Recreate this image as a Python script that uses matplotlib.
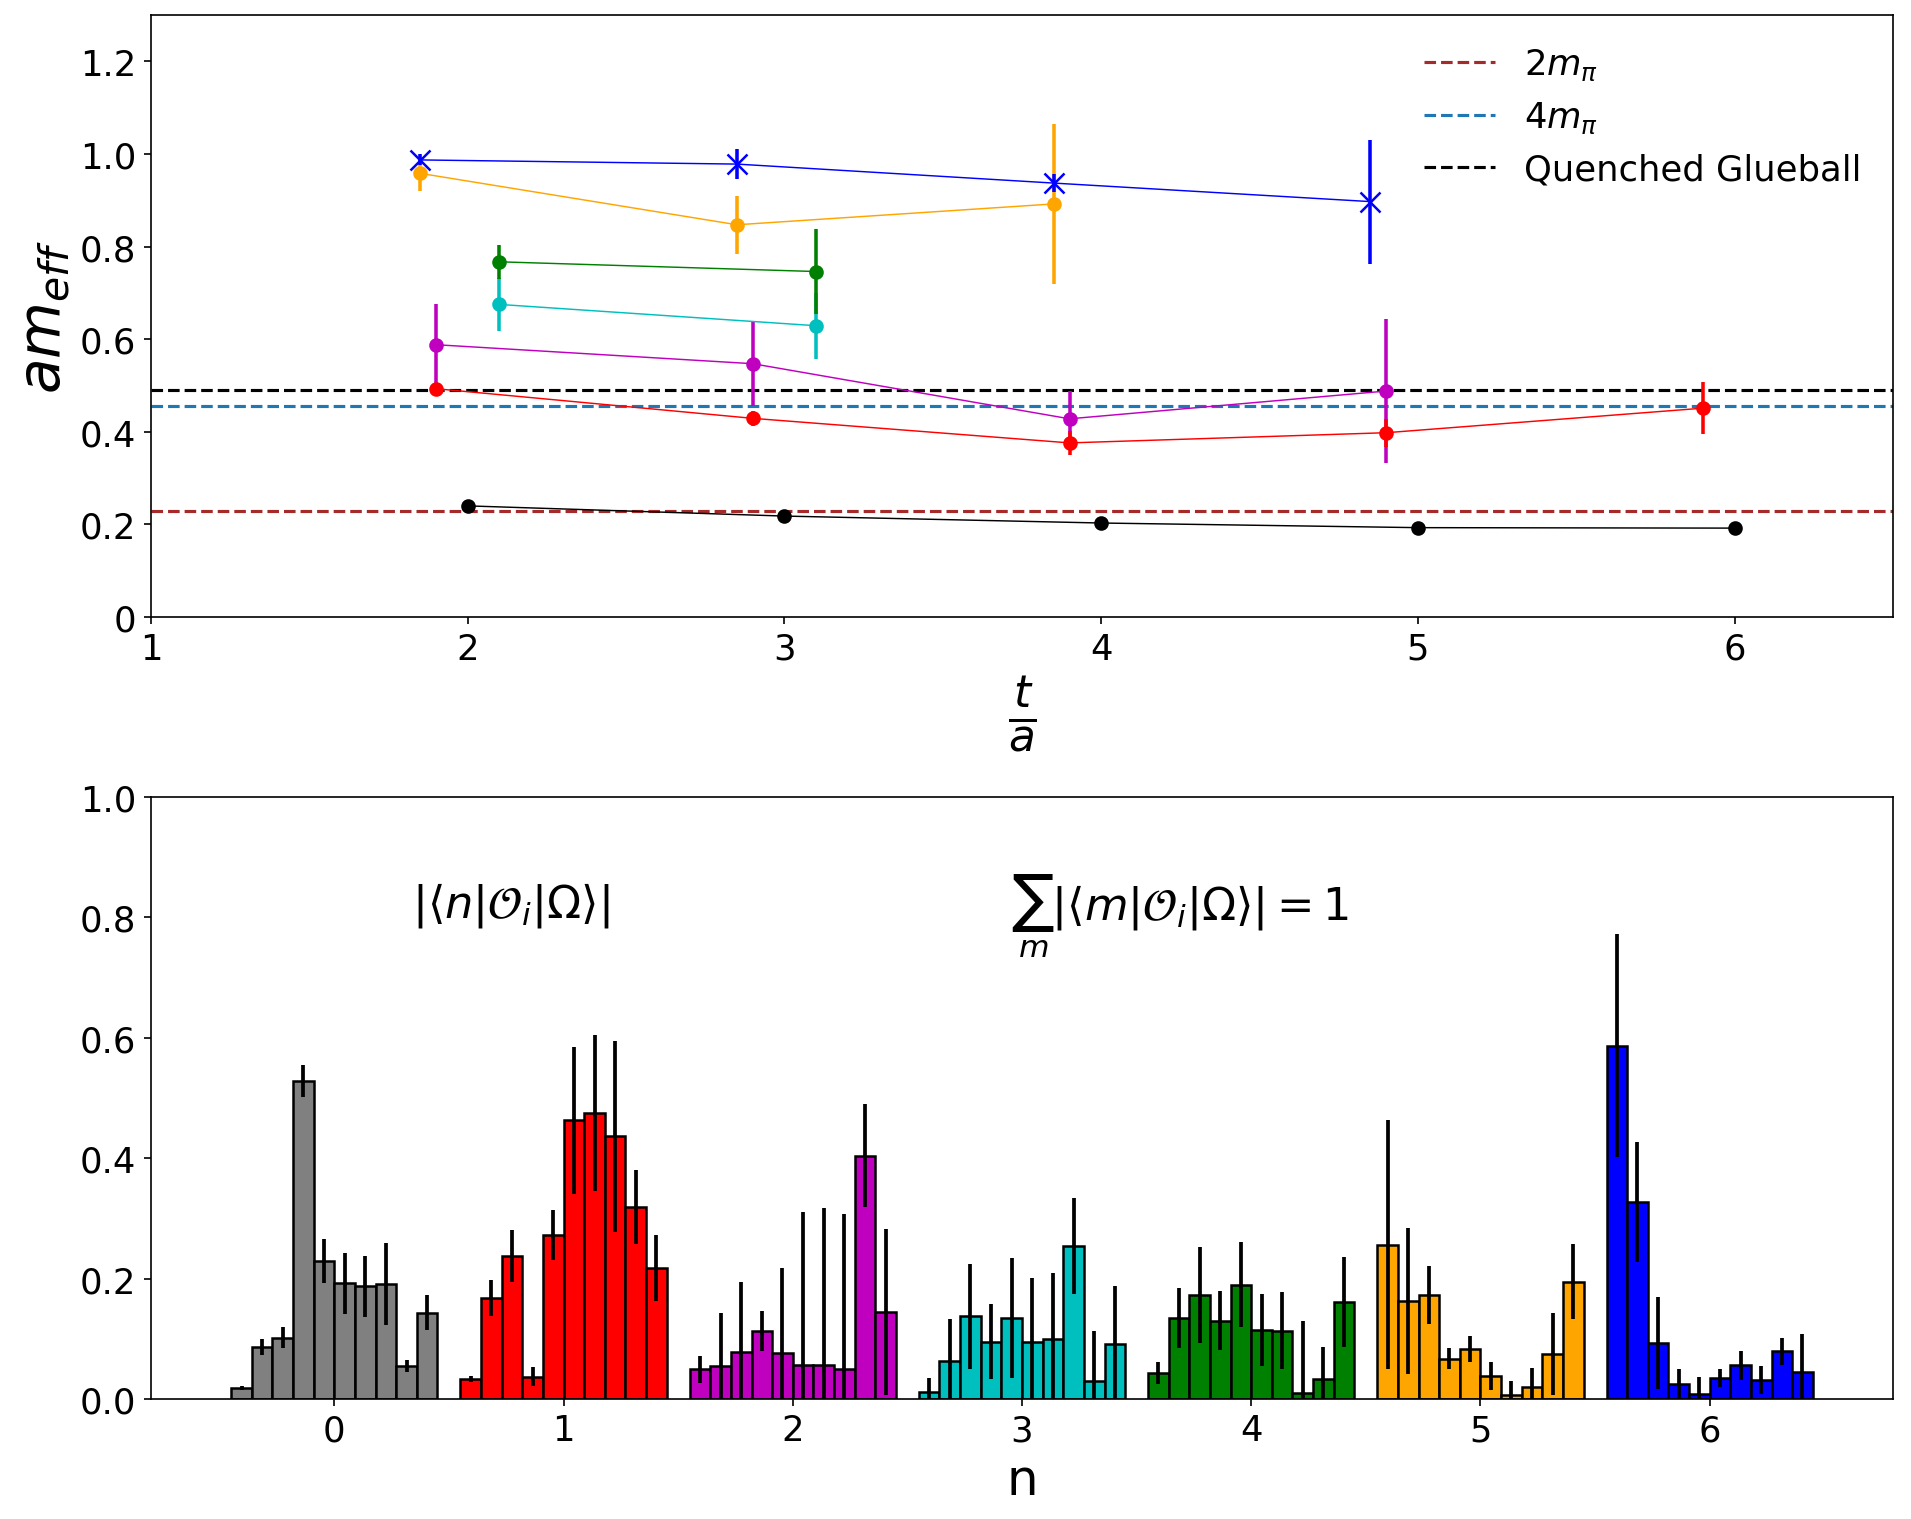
import numpy as np
import matplotlib.pyplot as plt

# effective masses vs t/a
t_pi = [2, 3, 4, 5, 6]
m_pi = [0.240, 0.218, 0.203, 0.193, 0.192]
e_pi = [0.004, 0.004, 0.004, 0.004, 0.004]

t_red = [1.9, 2.9, 3.9, 4.9, 5.9]
m_red = [0.493, 0.429, 0.376, 0.398, 0.451]
e_red = [0.010, 0.016, 0.026, 0.030, 0.056]

t_mag = [1.9, 2.9, 3.9, 4.9]
m_mag = [0.588, 0.547, 0.428, 0.488]
e_mag = [0.088, 0.092, 0.060, 0.155]

t_cyan = [2.1, 3.1]
m_cyan = [0.675, 0.629]
e_cyan = [0.058, 0.071]

t_green = [2.1, 3.1]
m_green = [0.767, 0.746]
e_green = [0.037, 0.092]

t_orange = [1.85, 2.85, 3.85]
m_orange = [0.958, 0.847, 0.892]
e_orange = [0.038, 0.063, 0.172]

t_blue = [1.85, 2.85, 3.85, 4.85]
m_blue = [0.987, 0.978, 0.937, 0.897]
e_blue = [0.012, 0.033, 0.020, 0.134]

two_mpi = 0.228
four_mpi = 0.456
glueball = 0.490

# overlaps |<n|O_i|Omega>| for each state n, 10 operators each
amp_0 = [0.018, 0.086, 0.102, 0.528, 0.229, 0.192, 0.187, 0.191, 0.054, 0.143]
err_0 = [0.004, 0.013, 0.017, 0.027, 0.036, 0.051, 0.051, 0.068, 0.010, 0.029]
amp_1 = [0.033, 0.168, 0.238, 0.037, 0.272, 0.463, 0.475, 0.436, 0.319, 0.217]
err_1 = [0.005, 0.030, 0.043, 0.016, 0.042, 0.122, 0.129, 0.158, 0.062, 0.055]
amp_2 = [0.049, 0.054, 0.078, 0.113, 0.076, 0.057, 0.057, 0.050, 0.404, 0.145]
err_2 = [0.023, 0.088, 0.116, 0.033, 0.142, 0.253, 0.260, 0.257, 0.086, 0.138]
amp_3 = [0.011, 0.063, 0.137, 0.095, 0.134, 0.095, 0.100, 0.254, 0.030, 0.091]
err_3 = [0.024, 0.070, 0.087, 0.062, 0.100, 0.106, 0.109, 0.080, 0.082, 0.097]
amp_4 = [0.043, 0.134, 0.173, 0.130, 0.190, 0.115, 0.113, 0.010, 0.033, 0.161]
err_4 = [0.019, 0.050, 0.080, 0.049, 0.071, 0.060, 0.064, 0.120, 0.053, 0.075]
amp_5 = [0.256, 0.163, 0.173, 0.067, 0.083, 0.038, 0.006, 0.020, 0.075, 0.195]
err_5 = [0.207, 0.121, 0.048, 0.017, 0.022, 0.023, 0.023, 0.031, 0.068, 0.062]
amp_6 = [0.587, 0.327, 0.093, 0.024, 0.009, 0.034, 0.056, 0.032, 0.079, 0.044]
err_6 = [0.185, 0.100, 0.077, 0.025, 0.028, 0.015, 0.024, 0.023, 0.023, 0.064]

states = [0, 1, 2, 3, 4, 5, 6]
amps = [amp_0, amp_1, amp_2, amp_3, amp_4, amp_5, amp_6]
errs = [err_0, err_1, err_2, err_3, err_4, err_5, err_6]
state_colors = ['grey', 'r', 'm', 'c', 'g', 'orange', 'b']

fig = plt.figure(figsize=(12.74, 10.1333), dpi=150)
ax1 = fig.add_axes([0.079, 0.5934, 0.9116, 0.3961])
ax2 = fig.add_axes([0.079, 0.079, 0.9116, 0.3961])

# top panel
ax1.axhline(two_mpi, color='brown', ls='--', lw=1.5, label=r'$2m_{\pi}$')
ax1.axhline(four_mpi, color='tab:blue', ls='--', lw=1.5, label=r'$4m_{\pi}$')
ax1.axhline(glueball, color='k', ls='--', lw=1.5, label='Quenched Glueball')

kw = dict(lw=0.7, elinewidth=1.7, markersize=6)
ax1.errorbar(t_pi, m_pi, yerr=e_pi, fmt='-o', color='k', **kw)
ax1.errorbar(t_mag, m_mag, yerr=e_mag, fmt='-o', color='m', **kw)
ax1.errorbar(t_red, m_red, yerr=e_red, fmt='-o', color='r', **kw)
ax1.errorbar(t_cyan, m_cyan, yerr=e_cyan, fmt='-o', color='c', **kw)
ax1.errorbar(t_green, m_green, yerr=e_green, fmt='-o', color='g', **kw)
ax1.errorbar(t_orange, m_orange, yerr=e_orange, fmt='-o', color='orange', **kw)
ax1.errorbar(t_blue, m_blue, yerr=e_blue, fmt='-x', color='b', lw=0.7,
             elinewidth=1.7, markersize=10, mew=1.2)

ax1.set_xlim(1, 6.5)
ax1.set_ylim(0, 1.3)
ax1.set_yticks([0, 0.2, 0.4, 0.6, 0.8, 1.0, 1.2])
ax1.set_yticklabels(['0', '0.2', '0.4', '0.6', '0.8', '1.0', '1.2'])
ax1.tick_params(labelsize=17)
ax1.set_xlabel(r'$\frac{t}{a}$', fontsize=30)
ax1.set_ylabel(r'$am_{eff}$', fontsize=28)
ax1.legend(loc='upper right', frameon=False, fontsize=17)

# bottom panel
width = 0.09
offsets = (np.arange(10) - 4.5) * width
for n, a, e, c in zip(states, amps, errs, state_colors):
    ax2.bar(n + offsets, a, width=width, yerr=e, color=c, edgecolor='k',
            linewidth=1.2, error_kw=dict(elinewidth=1.8, ecolor='k'))

ax2.set_xlim(-0.8, 6.8)
ax2.set_ylim(0, 1.0)
ax2.set_xticks(states)
ax2.tick_params(labelsize=17)
ax2.set_xlabel('n', fontsize=24)
ax2.text(0.34, 0.822, r'$|\langle n|\mathcal{O}_i|\Omega\rangle|$', fontsize=21.5,
         ha='left', va='center')
ax2.text(2.95, 0.803, r'$\sum_m|\langle m|\mathcal{O}_i|\Omega\rangle| = 1$',
         fontsize=21.5, ha='left', va='center')

fig.savefig('out.png', dpi=150)
